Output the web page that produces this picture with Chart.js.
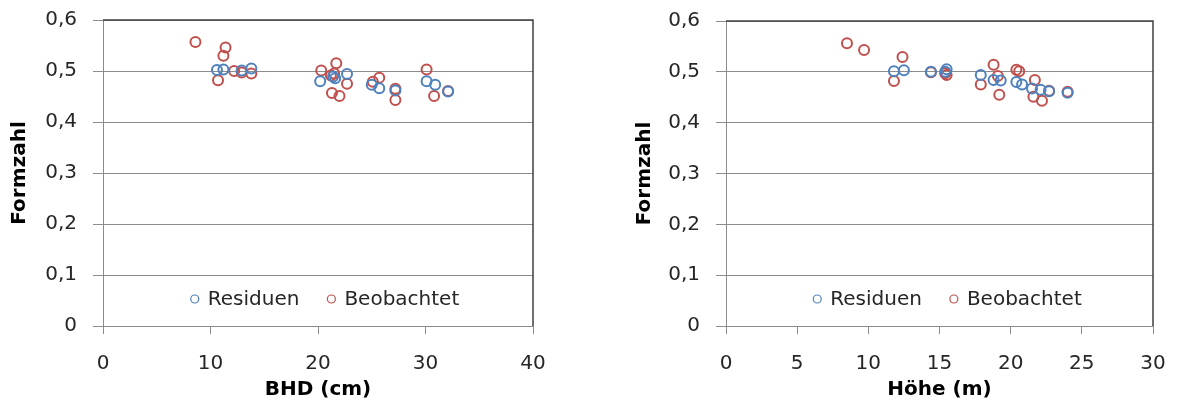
<!DOCTYPE html>
<html>
<head>
<meta charset="utf-8">
<script src="https://cdn.jsdelivr.net/npm/chart.js@4.4.1/dist/chart.umd.min.js"></script>
<style>
  body { margin: 0; background: #fff; }
  .wrap { position: absolute; top: 0; }
</style>
</head>
<body>
<div class="wrap" style="left:0"><canvas id="bhdChart" width="560" height="412"></canvas></div>
<div class="wrap" style="left:625px"><canvas id="hoeheChart" width="558" height="412"></canvas></div>
<script>
// Formzahl over BHD (cm)
const bhdResX = [10.6, 11.2, 12.9, 13.8, 20.2, 21.4, 21.6, 22.7, 25.0, 25.7, 27.2, 30.1, 30.9, 32.1];
const bhdResY = [0.502, 0.503, 0.501, 0.505, 0.480, 0.489, 0.486, 0.494, 0.473, 0.466, 0.462, 0.480, 0.473, 0.460];
const bhdObsX = [8.6, 11.4, 11.2, 10.7, 12.2, 12.9, 13.8, 20.3, 21.7, 21.2, 21.5, 22.7, 21.3, 22.0, 25.1, 25.7, 27.2, 27.2, 30.1, 30.8, 32.1];
const bhdObsY = [0.557, 0.546, 0.530, 0.482, 0.500, 0.497, 0.495, 0.501, 0.515, 0.491, 0.495, 0.475, 0.457, 0.451, 0.479, 0.487, 0.465, 0.443, 0.503, 0.451, 0.461];

// Formzahl over Höhe (m)
const hoeheResX = [11.8, 12.5, 14.4, 15.5, 15.4, 17.9, 18.8, 19.3, 20.4, 20.8, 21.5, 22.1, 22.7, 24.0];
const hoeheResY = [0.501, 0.503, 0.500, 0.505, 0.500, 0.494, 0.484, 0.483, 0.480, 0.475, 0.467, 0.465, 0.462, 0.459];
const hoeheObsX = [8.5, 9.7, 12.4, 11.8, 14.4, 15.4, 15.5, 18.8, 17.9, 19.1, 19.2, 20.4, 20.6, 21.7, 21.6, 22.2, 22.7, 24.0];
const hoeheObsY = [0.556, 0.543, 0.529, 0.482, 0.499, 0.497, 0.494, 0.514, 0.475, 0.492, 0.455, 0.504, 0.501, 0.484, 0.451, 0.443, 0.463, 0.461];

const seriesLabels = ['Residuen', 'Beobachtet'];
const yTicks = ['0', '0,1', '0,2', '0,3', '0,4', '0,5', '0,6'];

const BLUE = '#4f81bd';
const RED = '#c0504d';
const GRID = '#8c8c8c';
const FONT = '"DejaVu Sans", sans-serif';

function toPoints(xs, ys) {
  return xs.map((x, i) => ({ x: x, y: ys[i] }));
}

// plot frame: dark line on top and right
const framePlugin = {
  id: 'frame',
  afterDraw(chart) {
    const { ctx, chartArea: a } = chart;
    ctx.save();
    ctx.strokeStyle = '#404040';
    ctx.lineWidth = 1.5;
    ctx.beginPath();
    ctx.moveTo(a.left, a.top);
    ctx.lineTo(a.right, a.top);
    ctx.lineTo(a.right, a.bottom);
    ctx.stroke();
    ctx.restore();
  }
};

// legend drawn inside the plot area, near the bottom
const innerLegend = {
  id: 'innerLegend',
  afterDraw(chart) {
    const { ctx, chartArea: a } = chart;
    const sets = chart.data.datasets;
    ctx.save();
    ctx.font = '20px ' + FONT;
    ctx.textBaseline = 'middle';
    const r = 4, textOff = 13, gapItem = 32;
    const widths = sets.map(d => r + textOff + ctx.measureText(d.label).width);
    const total = widths.reduce((s, w) => s + w, 0) + (gapItem - r) * (sets.length - 1);
    let x = (a.left + a.right) / 2 - total / 2 + chart.options.plugins.innerLegend.shift + r;
    const y = a.bottom - 27;
    sets.forEach((d, i) => {
      ctx.beginPath();
      ctx.arc(x, y, r, 0, Math.PI * 2);
      ctx.strokeStyle = d.borderColor;
      ctx.lineWidth = 1.2;
      ctx.stroke();
      ctx.fillStyle = '#262626';
      ctx.fillText(d.label, x + textOff, y + 1);
      x += textOff + ctx.measureText(d.label).width + gapItem;
    });
    ctx.restore();
  }
};

function makeChart(id, resX, resY, obsX, obsY, xMax, xStep, xTitle, axisWidth, padTop, padRight, shift) {
  const ctx = document.getElementById(id).getContext('2d');
  return new Chart(ctx, {
    type: 'scatter',
    data: {
      datasets: [
        {
          label: seriesLabels[0],
          data: toPoints(resX, resY),
          borderColor: BLUE,
          backgroundColor: 'rgba(0,0,0,0)',
          borderWidth: 2,
          pointRadius: 5,
          pointHoverRadius: 5
        },
        {
          label: seriesLabels[1],
          data: toPoints(obsX, obsY),
          borderColor: RED,
          backgroundColor: 'rgba(0,0,0,0)',
          borderWidth: 2,
          pointRadius: 5,
          pointHoverRadius: 5
        }
      ]
    },
    options: {
      responsive: false,
      animation: false,
      devicePixelRatio: 1,
      layout: { padding: { left: 0, top: padTop, right: padRight, bottom: 0 } },
      plugins: {
        legend: { display: false },
        tooltip: { enabled: false },
        innerLegend: { shift: shift }
      },
      scales: {
        x: {
          type: 'linear',
          min: 0,
          max: xMax,
          ticks: {
            stepSize: xStep,
            color: '#262626',
            padding: 18,
            maxRotation: 0,
            font: { family: FONT, size: 20 }
          },
          grid: { drawOnChartArea: false, drawTicks: true, tickLength: 8, color: GRID },
          border: { color: GRID, width: 1 },
          title: {
            display: true,
            text: xTitle,
            color: '#000',
            padding: { top: 0, bottom: 10 },
            font: { family: FONT, size: 20, weight: 'bold' }
          },
          afterFit(scale) {
            scale.height = 86;
            scale.paddingLeft = 0;
            scale.paddingRight = 0;
          }
        },
        y: {
          type: 'linear',
          min: 0,
          max: 0.6,
          ticks: {
            stepSize: 0.1,
            color: '#262626',
            padding: 16,
            font: { family: FONT, size: 20 },
            callback: (v) => yTicks[Math.round(v * 10)]
          },
          grid: { drawTicks: true, tickLength: 10, color: GRID, lineWidth: 1 },
          border: { color: GRID, width: 1 },
          title: {
            display: true,
            text: 'Formzahl',
            color: '#000',
            padding: { top: 8, bottom: 0 },
            font: { family: FONT, size: 20, weight: 'bold' }
          },
          afterFit(scale) {
            scale.width = axisWidth;
            scale.paddingTop = 0;
            scale.paddingBottom = 0;
          }
        }
      }
    },
    plugins: [framePlugin, innerLegend]
  });
}

makeChart('bhdChart', bhdResX, bhdResY, bhdObsX, bhdObsY, 40, 10, 'BHD (cm)', 103, 20, 27, 7);
makeChart('hoeheChart', hoeheResX, hoeheResY, hoeheObsX, hoeheObsY, 30, 5, 'Höhe (m)', 101, 21, 30, 8);
</script>
</body>
</html>
